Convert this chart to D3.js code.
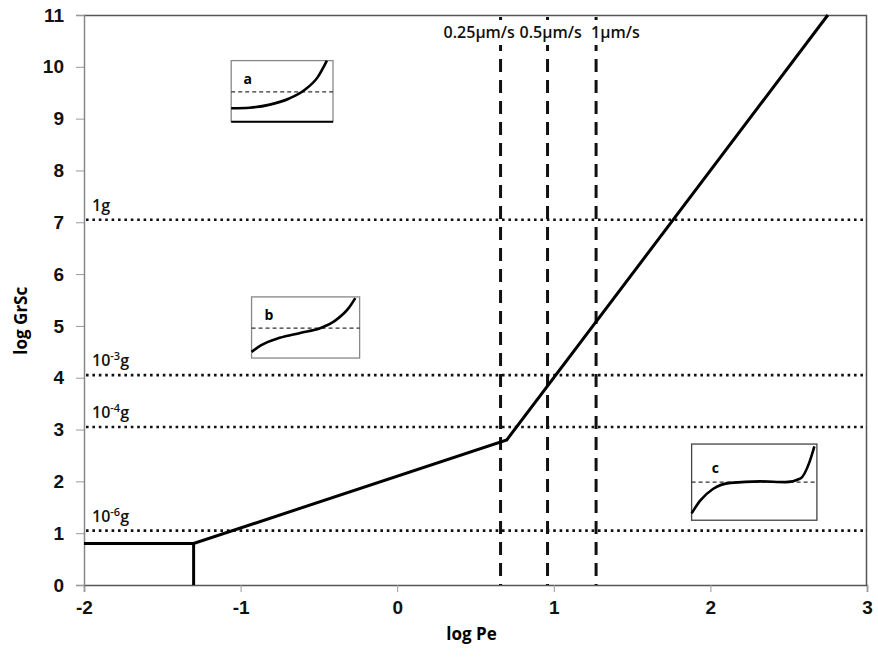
<!DOCTYPE html>
<html>
<head>
<meta charset="utf-8">
<script src="https://cdn.jsdelivr.net/npm/d3@7"></script>
<style>
  body { margin: 0; background: #fff; }
  svg { display: block; font-family: "Open Sans", "Noto Sans", sans-serif; }
</style>
</head>
<body>
<svg width="878" height="666"></svg>
<script>
// axis ticks
var xTicks = [-2, -1, 0, 1, 2, 3];
var yTicks = [0, 1, 2, 3, 4, 5, 6, 7, 8, 9, 10, 11];

// regime boundary (log Pe, log GrSc)
var boundaryPe = [-2, -1.3, 0.7, 2.75];
var boundaryGrSc = [0.8, 0.8, 2.8, 11];
var dividerPe = [-1.3, -1.3];
var dividerGrSc = [0, 0.8];

// gravity levels (dotted)
var gravityBase = ["1", "10", "10", "10"];
var gravityExp = ["", "-3", "-4", "-6"];
var gravityGrSc = [7.05, 4.05, 3.05, 1.05];

// growth velocities (dashed)
var velocityLabels = ["0.25\u00b5m/s", "0.5\u00b5m/s", "1\u00b5m/s"];
var velocityPe = [0.66, 0.96, 1.27];

// inset sketches: placement in data space
var insetNames = ["a", "b", "c"];
var insetPe = [[-1.06, -0.41], [-0.93, -0.24], [1.88, 2.68]];
var insetGrSc = [[8.94, 10.12], [4.38, 5.56], [1.25, 2.72]];
var insetDash = [0.49, 0.49, 0.5];
// curves, normalised 0..1 inside each inset
var insetCurveX = [
  [0, 0.18, 0.38, 0.57, 0.72, 0.85, 0.94],
  [0, 0.09, 0.26, 0.45, 0.64, 0.78, 0.9, 0.96],
  [0, 0.07, 0.17, 0.31, 0.55, 0.75, 0.87, 0.94, 0.98]
];
var insetCurveY = [
  [0.22, 0.23, 0.28, 0.38, 0.52, 0.73, 1.0],
  [0.1, 0.21, 0.33, 0.41, 0.49, 0.62, 0.82, 0.98],
  [0.09, 0.26, 0.41, 0.49, 0.51, 0.5, 0.55, 0.76, 0.97]
];

var svg = d3.select("svg"),
    margin = {top: 15, right: 11, bottom: 81, left: 84},
    width = +svg.attr("width") - margin.left - margin.right,
    height = +svg.attr("height") - margin.top - margin.bottom;

var g = svg.append("g").attr("transform", "translate(" + margin.left + "," + margin.top + ")");

var x = d3.scaleLinear().domain([-2, 3]).range([0, width]);
var y = d3.scaleLinear().domain([0, 11]).range([height, 0]);

// frame top / right
g.append("path")
  .attr("d", "M0,0.5H" + (width - 0.5) + "V" + height)
  .attr("fill", "none")
  .attr("stroke", "#555")
  .attr("stroke-width", 1.5);

// axes (plain hyphen for negatives, as in the original)
var xAxis = g.append("g")
  .attr("transform", "translate(0," + height + ")")
  .call(d3.axisBottom(x).tickValues(xTicks).tickSize(7).tickPadding(6).tickFormat(function(d) { return String(d); }));
var yAxis = g.append("g")
  .call(d3.axisLeft(y).tickValues(yTicks).tickSize(8).tickPadding(12).tickFormat(function(d) { return String(d); }));

xAxis.select(".domain").attr("stroke", "#555").attr("stroke-width", 1.5);
yAxis.select(".domain").attr("stroke", "#888").attr("stroke-width", 1.5);
svg.selectAll(".tick line").attr("stroke", "#999");
svg.selectAll(".tick text")
  .attr("font-size", 19)
  .attr("font-weight", "bold")
  .attr("fill", "#111");
xAxis.selectAll(".tick text").attr("dy", "0.85em");

// axis titles
svg.append("text")
  .attr("x", margin.left + x(0.5) - 4)
  .attr("y", 640)
  .attr("text-anchor", "middle")
  .attr("font-size", 17)
  .attr("font-weight", "bold")
  .text("log Pe");

svg.append("text")
  .attr("transform", "translate(27," + (margin.top + y(5.1)) + ") rotate(-90)")
  .attr("text-anchor", "middle")
  .attr("font-size", 17)
  .attr("font-weight", "bold")
  .text("log GrSc");

// gravity dotted lines
gravityGrSc.forEach(function(v, i) {
  g.append("line")
    .attr("x1", 2).attr("x2", width)
    .attr("y1", y(v)).attr("y2", y(v))
    .attr("stroke", "#111")
    .attr("stroke-width", 2.6)
    .attr("stroke-dasharray", "2.6,3.8");
  var t = g.append("text")
    .attr("x", 8)
    .attr("y", y(v) - 9)
    .attr("font-size", 16)
    .attr("font-weight", 600)
    .attr("fill", "#111");
  t.append("tspan").text(gravityBase[i]);
  if (gravityExp[i]) {
    t.append("tspan").attr("font-size", 11).attr("dy", -6).text(gravityExp[i]);
    t.append("tspan").attr("dy", 6).text("g");
  } else {
    t.append("tspan").text("g");
  }
});

// velocity dashed lines
velocityPe.forEach(function(v) {
  g.append("line")
    .attr("x1", x(v)).attr("x2", x(v))
    .attr("y1", 2).attr("y2", height)
    .attr("stroke", "#111")
    .attr("stroke-width", 3)
    .attr("stroke-dasharray", "13,8");
});

// labels sit on white boxes over the dashed lines (drawn right to left)
var labelShift = [-57, -28, -5];
[2, 1, 0].forEach(function(i) {
  var lx = x(velocityPe[i]) + labelShift[i];
  var t = g.append("text")
    .attr("x", lx)
    .attr("y", 23)
    .attr("font-size", 16)
    .attr("font-weight", 600)
    .attr("fill", "#111")
    .text(velocityLabels[i]);
  var bb = t.node().getBBox();
  g.insert("rect", function() { return t.node(); })
    .attr("x", bb.x - 1).attr("y", 5)
    .attr("width", bb.width + 2).attr("height", 25)
    .attr("fill", "#fff");
});

// regime boundary
var line = d3.line()
  .x(function(d) { return x(d[0]); })
  .y(function(d) { return y(d[1]); });

g.append("path")
  .datum(d3.zip(boundaryPe, boundaryGrSc))
  .attr("d", line)
  .attr("fill", "none")
  .attr("stroke", "#000")
  .attr("stroke-width", 3);

g.append("path")
  .datum(d3.zip(dividerPe, dividerGrSc))
  .attr("d", line)
  .attr("fill", "none")
  .attr("stroke", "#000")
  .attr("stroke-width", 3);

// insets
insetNames.forEach(function(name, i) {
  var x0 = x(insetPe[i][0]), x1 = x(insetPe[i][1]);
  var y0 = y(insetGrSc[i][1]), y1 = y(insetGrSc[i][0]);
  var ix = d3.scaleLinear().domain([0, 1]).range([x0, x1]);
  var iy = d3.scaleLinear().domain([0, 1]).range([y1, y0]);
  var inset = g.append("g");

  inset.append("rect")
    .attr("x", x0).attr("y", y0)
    .attr("width", x1 - x0).attr("height", y1 - y0)
    .attr("fill", "#fff")
    .attr("stroke", i == 2 ? "#444" : "#888")
    .attr("stroke-width", 1.3);
  if (i == 0) {
    inset.append("line")
      .attr("x1", x0).attr("x2", x1)
      .attr("y1", y1).attr("y2", y1)
      .attr("stroke", "#000").attr("stroke-width", 2);
  }
  inset.append("line")
    .attr("x1", x0).attr("x2", x1)
    .attr("y1", iy(insetDash[i])).attr("y2", iy(insetDash[i]))
    .attr("stroke", "#333")
    .attr("stroke-width", 1.2)
    .attr("stroke-dasharray", "4,3");
  inset.append("path")
    .datum(d3.zip(insetCurveX[i], insetCurveY[i]))
    .attr("d", d3.line()
      .x(function(d) { return ix(d[0]); })
      .y(function(d) { return iy(d[1]); })
      .curve(d3.curveMonotoneX))
    .attr("fill", "none")
    .attr("stroke", "#000")
    .attr("stroke-width", 2.6);
  inset.append("text")
    .attr("x", ix(i == 2 ? 0.16 : 0.12))
    .attr("y", iy(0.62))
    .attr("font-size", 14)
    .attr("font-weight", "bold")
    .text(name);
});
</script>
</body>
</html>
